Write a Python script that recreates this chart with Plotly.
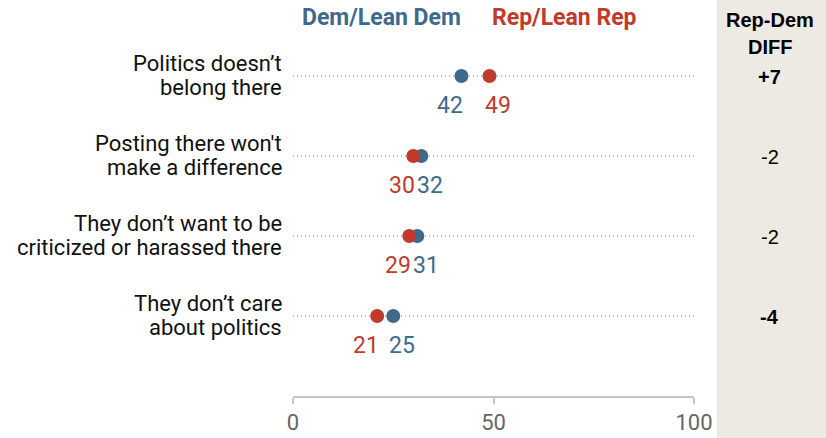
import plotly.graph_objects as go

categories = [
    "Politics doesn\u2019t<br>belong there",
    "Posting there won't<br>make a difference",
    "They don\u2019t want to be<br>criticized or harassed there",
    "They don\u2019t care<br>about politics",
]
dem = [42, 32, 31, 25]
rep = [49, 30, 29, 21]
diff_labels = ["+7", "-2", "-2", "-4"]
diff_bold = [True, False, False, True]
tick_vals = [0, 50, 100]
tick_text = ["0", "50", "100"]

DEM_C = "#3e6a8b"
REP_C = "#c03b2b"
FONT = "Roboto"

rows = list(range(len(categories)))

fig = go.Figure()

# dotted guide lines
for r in rows:
    fig.add_shape(type="line", xref="x", yref="y", x0=0, x1=100, y0=r, y1=r,
                  line=dict(color="#a8a8a8", width=1.3, dash="1px,3px"), layer="below")

fig.add_trace(go.Scatter(x=dem, y=rows, mode="markers",
                         marker=dict(size=14, color=DEM_C), hoverinfo="skip", showlegend=False))
fig.add_trace(go.Scatter(x=rep, y=rows, mode="markers",
                         marker=dict(size=14, color=REP_C), hoverinfo="skip", showlegend=False))

ann = []
# value labels
for r in rows:
    d, p = dem[r], rep[r]
    pairs = sorted([(d, DEM_C), (p, REP_C)], key=lambda t: t[0])
    (lo, lo_c), (hi, hi_c) = pairs
    ann.append(dict(x=lo, y=r, xref="x", yref="y", text=str(lo), showarrow=False,
                    xanchor="right", yanchor="middle", xshift=4, yshift=-29,
                    font=dict(family=FONT, size=23, color=lo_c)))
    ann.append(dict(x=hi, y=r, xref="x", yref="y", text=str(hi), showarrow=False,
                    xanchor="left", yanchor="middle", xshift=-6, yshift=-29,
                    font=dict(family=FONT, size=23, color=hi_c)))
# category labels (two lines each, tighter line spacing)
for r in rows:
    lines = categories[r].split("<br>")
    for i, line in enumerate(lines):
        ann.append(dict(x=0, y=r, xref="paper", yref="y", text=line, showarrow=False,
                        xanchor="right", yanchor="middle", xshift=-9, yshift=13 - 24 * i,
                        font=dict(family=FONT, size=22, color="#111111")))
# legend labels
ann.append(dict(x=22, y=1 + (36 - 18) / 360, xref="x", yref="paper", text="<b>Dem/Lean Dem</b>",
                showarrow=False, xanchor="center", yanchor="middle",
                font=dict(family=FONT, size=23, color=DEM_C)))
ann.append(dict(x=67.8, y=1 + (36 - 18) / 360, xref="x", yref="paper", text="<b>Rep/Lean Rep</b>",
                showarrow=False, xanchor="center", yanchor="middle",
                font=dict(family=FONT, size=23, color=REP_C)))
# diff column header
for txt, py in (("Rep-Dem", 20), ("DIFF", 47)):
    ann.append(dict(x=1.1895, y=1 + (36 - py) / 360, xref="paper", yref="paper", text=f"<b>{txt}</b>",
                    showarrow=False, xanchor="center", yanchor="middle",
                    font=dict(family="Liberation Sans", size=20, color="#000000")))
for r in rows:
    t = f"<b>{diff_labels[r]}</b>" if diff_bold[r] else diff_labels[r]
    ann.append(dict(x=1.1895, y=r, xref="paper", yref="y", text=t, showarrow=False,
                    xanchor="center", yanchor="middle", yshift=-1,
                    font=dict(family="Liberation Sans", size=20, color="#000000")))

fig.add_shape(type="rect", xref="paper", yref="paper", x0=(717 - 293) / 401, x1=1.5, y0=-0.3, y1=1.3,
              fillcolor="#edeae4", line=dict(width=0), layer="below")

fig.update_layout(
    width=826, height=438,
    margin=dict(l=293, r=132, t=36, b=42, autoexpand=False),
    paper_bgcolor="white", plot_bgcolor="white",
    annotations=ann,
    xaxis=dict(range=[0, 100], tickvals=tick_vals, ticktext=tick_text, showgrid=False,
               zeroline=False, showline=True, linecolor="#c4c4c4", linewidth=1.5,
               ticks="outside", ticklen=6, tickcolor="#c4c4c4", tickwidth=1.5,
               ticklabelstandoff=0, automargin=False,
               tickfont=dict(family=FONT, size=22, color="#666666"), fixedrange=True),
    yaxis=dict(range=[4, -0.5], showticklabels=False, showgrid=False, zeroline=False,
               showline=False, fixedrange=True, automargin=False),
)

fig.write_html("out.html", config={"displayModeBar": False},
               post_script="document.body.style.margin='0px';")
